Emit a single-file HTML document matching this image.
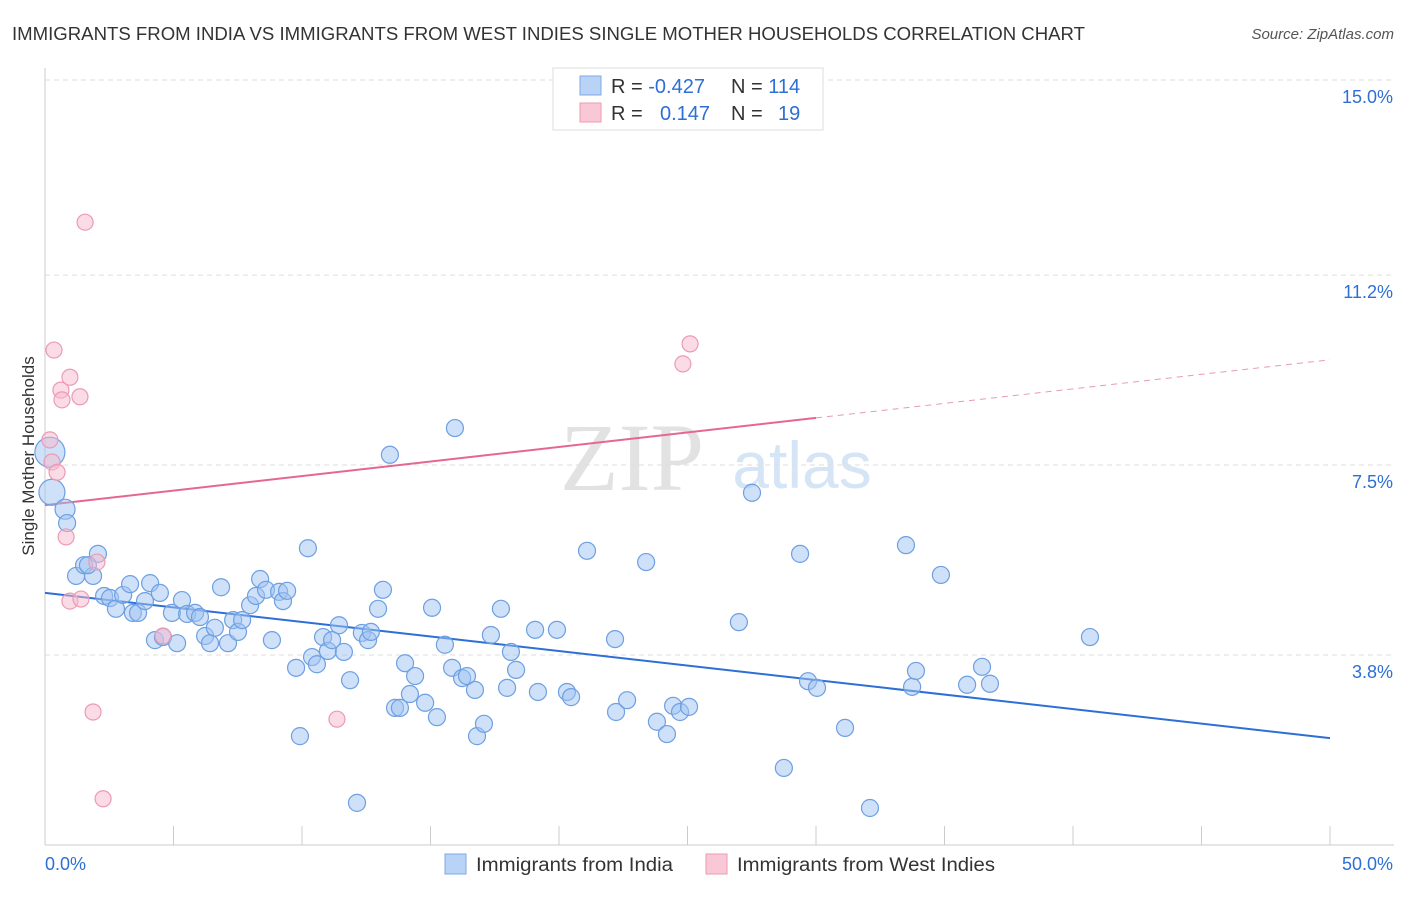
<!DOCTYPE html>
<html><head><meta charset="utf-8"><style>
body{margin:0;background:#fff;font-family:"Liberation Sans",sans-serif;}
</style></head><body>
<svg id="chart" width="1406" height="892" xmlns="http://www.w3.org/2000/svg">
<text x="12" y="40" font-size="18" fill="#333" textLength="1073" lengthAdjust="spacingAndGlyphs">IMMIGRANTS FROM INDIA VS IMMIGRANTS FROM WEST INDIES SINGLE MOTHER HOUSEHOLDS CORRELATION CHART</text>
<text x="1394" y="39" font-size="15" fill="#555" font-style="italic" text-anchor="end">Source: ZipAtlas.com</text>
<g>
<text x="632" y="490" font-size="96" fill="#e2e2e2" font-family="Liberation Serif,serif" text-anchor="middle">ZIP</text>
<text x="802" y="488" font-size="66" fill="#d6e5f6" text-anchor="middle">atlas</text>
</g>
<g id="grid"></g>
<g id="axes"></g>
<g id="lines"></g>
<g id="points"></g>
<text x="34" y="456" font-size="17" fill="#333" transform="rotate(-90 34 456)" text-anchor="middle">Single Mother Households</text>
<g>
<rect x="553" y="68" width="270" height="62" fill="#fff" stroke="#ddd"/>
<rect x="580" y="76" width="21" height="19" fill="#b8d3f5" stroke="#7eaae6"/>
<rect x="580" y="103" width="21" height="19" fill="#f9c8d6" stroke="#ec9ab3"/>
<text x="611" y="93" font-size="20" fill="#333">R = <tspan fill="#2d6fd6">-0.427</tspan></text>
<text x="731" y="93" font-size="20" fill="#333">N = <tspan fill="#2d6fd6">114</tspan></text>
<text x="611" y="120" font-size="20" fill="#333">R = </text>
<text x="660" y="120" font-size="20" fill="#2d6fd6">0.147</text>
<text x="731" y="120" font-size="20" fill="#333">N = </text>
<text x="778" y="120" font-size="20" fill="#2d6fd6">19</text>
</g>
<g>
<rect x="445" y="854" width="21" height="20" fill="#b8d3f5" stroke="#7eaae6"/>
<text x="476" y="871" font-size="19" fill="#333" textLength="197" lengthAdjust="spacingAndGlyphs">Immigrants from India</text>
<rect x="706" y="854" width="21" height="20" fill="#f9c8d6" stroke="#ec9ab3"/>
<text x="737" y="871" font-size="19" fill="#333" textLength="258" lengthAdjust="spacingAndGlyphs">Immigrants from West Indies</text>
</g>
</svg>
<script>
const yTicks=[15.0,11.2,7.5,3.8];
const yTickLabels=["15.0%","11.2%","7.5%","3.8%"];
const xTickLabels=["0.0%","50.0%"];
const blueX=[0.19,0.27,0.78,0.86,1.21,1.52,1.87,2.06,1.67,2.30,2.53,2.76,3.04,3.31,3.42,3.62,3.89,4.09,4.28,4.47,4.59,4.94,5.14,5.33,5.53,5.84,6.03,6.23,6.42,6.61,6.85,7.12,7.32,7.51,7.67,7.98,8.21,8.37,8.60,8.83,9.11,9.26,9.42,9.77,9.92,10.23,10.39,10.58,10.82,11.01,11.17,11.44,11.63,11.87,12.14,12.33,12.57,12.68,12.96,13.15,13.42,13.62,13.81,14.01,14.20,14.40,14.79,15.06,15.25,15.56,15.84,15.95,16.23,16.42,16.73,16.81,17.08,17.35,17.74,17.98,18.13,18.33,19.07,19.18,19.92,20.31,20.47,21.09,22.22,22.18,22.65,23.39,23.81,24.20,24.44,24.71,25.06,27.00,27.51,28.75,29.38,29.69,30.04,31.13,32.10,33.50,33.74,33.89,34.86,35.88,36.46,36.77,40.66];
const blueY=[7.75,6.97,6.64,6.37,5.34,5.55,5.34,5.77,5.55,4.95,4.91,4.70,4.97,5.18,4.62,4.62,4.85,5.20,4.09,5.01,4.15,4.62,4.03,4.87,4.60,4.62,4.54,4.17,4.03,4.33,5.12,4.03,4.48,4.25,4.48,4.77,4.95,5.28,5.07,4.09,5.03,4.85,5.05,3.55,2.22,5.88,3.76,3.62,4.15,3.88,4.09,4.38,3.86,3.31,0.92,4.23,4.09,4.25,4.70,5.07,7.70,2.77,2.77,3.64,3.04,3.39,2.87,4.72,2.59,4.00,3.55,8.22,3.35,3.39,3.12,2.22,2.46,4.19,4.70,3.16,3.86,3.51,4.29,3.08,4.29,3.08,2.98,5.83,2.69,4.11,2.92,5.61,2.50,2.26,2.81,2.69,2.79,4.44,6.96,1.60,5.77,3.29,3.16,2.38,0.82,5.94,3.18,3.49,5.36,3.22,3.57,3.24,4.15];
const pinkX=[0.19,0.27,0.47,0.35,0.62,0.66,0.97,1.36,0.82,0.97,1.40,1.56,2.02,1.87,2.26,4.59,11.36,24.82,25.10];
const pinkY=[7.99,7.56,7.36,9.74,8.96,8.77,9.21,8.83,6.10,4.85,4.89,12.23,5.61,2.69,1.00,4.17,2.55,9.47,9.86];
const blueTrend=[5.01,2.18];
const pinkTrend=[6.72,9.55];
const pinkSolidEnd=30;

const NS="http://www.w3.org/2000/svg";
const X0=45,X1=1330;
const sx=v=>X0+(X1-X0)*v/50;
const sy=v=>80+(15-v)*51.34;
function mk(tag,attrs,parent){const e=document.createElementNS(NS,tag);for(const k in attrs)e.setAttribute(k,attrs[k]);document.getElementById(parent).appendChild(e);return e;}

yTicks.forEach((t,i)=>{
 const l=mk('line',{x1:X0,x2:1394,y1:sy(t),y2:sy(t),stroke:'#ddd','stroke-dasharray':'5,4'},'grid');
 
 
 const tx=mk('text',{x:1393,y:sy(t)+23,'font-size':18,fill:'#2d6fd6','text-anchor':'end'},'grid');
 tx.textContent=yTickLabels[i];
 
 
});
const ax=mk('line',{x1:X0,x2:X0,y1:68,y2:845,stroke:'#ccc'},'axes');


const bx=mk('line',{x1:X0,x2:1394,y1:845,y2:845,stroke:'#ccc'},'axes');


for(let i=0;i<=10;i++){
 const t=mk('line',{x1:sx(i*5),x2:sx(i*5),y1:826,y2:845,stroke:'#ccc'},'axes');
 
 
}
[[0,'start',45],[50,'end',1393]].forEach((d,i)=>{
 const t=mk('text',{x:d[2],y:870,'font-size':18,fill:'#2d6fd6','text-anchor':d[1]},'axes');
 t.textContent=xTickLabels[i];
 
 
});

const bt=mk('line',{x1:sx(0),y1:sy(blueTrend[0]),x2:sx(50),y2:sy(blueTrend[1]),stroke:'#2d6fd6','stroke-width':2},'lines');


const pm=pinkTrend[0]+(pinkTrend[1]-pinkTrend[0])*pinkSolidEnd/50;
const pt=mk('line',{x1:sx(0),y1:sy(pinkTrend[0]),x2:sx(pinkSolidEnd),y2:sy(pm),stroke:'#e5678f','stroke-width':2},'lines');


const pd=mk('line',{x1:sx(pinkSolidEnd),y1:sy(pm),x2:sx(50),y2:sy(pinkTrend[1]),stroke:'#e89ab2','stroke-width':1,'stroke-dasharray':'6,5'},'lines');



blueX.forEach((x,i)=>{
 const r=i===0?15:(i===1?13:(i===2?10:8.5));
 const c=mk('circle',{cx:sx(x),cy:sy(blueY[i]),r:r,fill:'rgba(160,196,242,0.5)',stroke:'#6d9fe2','stroke-width':1.2},'points');
 
 
});
pinkX.forEach((x,i)=>{
 const c=mk('circle',{cx:sx(x),cy:sy(pinkY[i]),r:8,fill:'rgba(248,185,205,0.5)',stroke:'#ec9ab3','stroke-width':1.2},'points');
 
 
});
</script>
</body></html>
